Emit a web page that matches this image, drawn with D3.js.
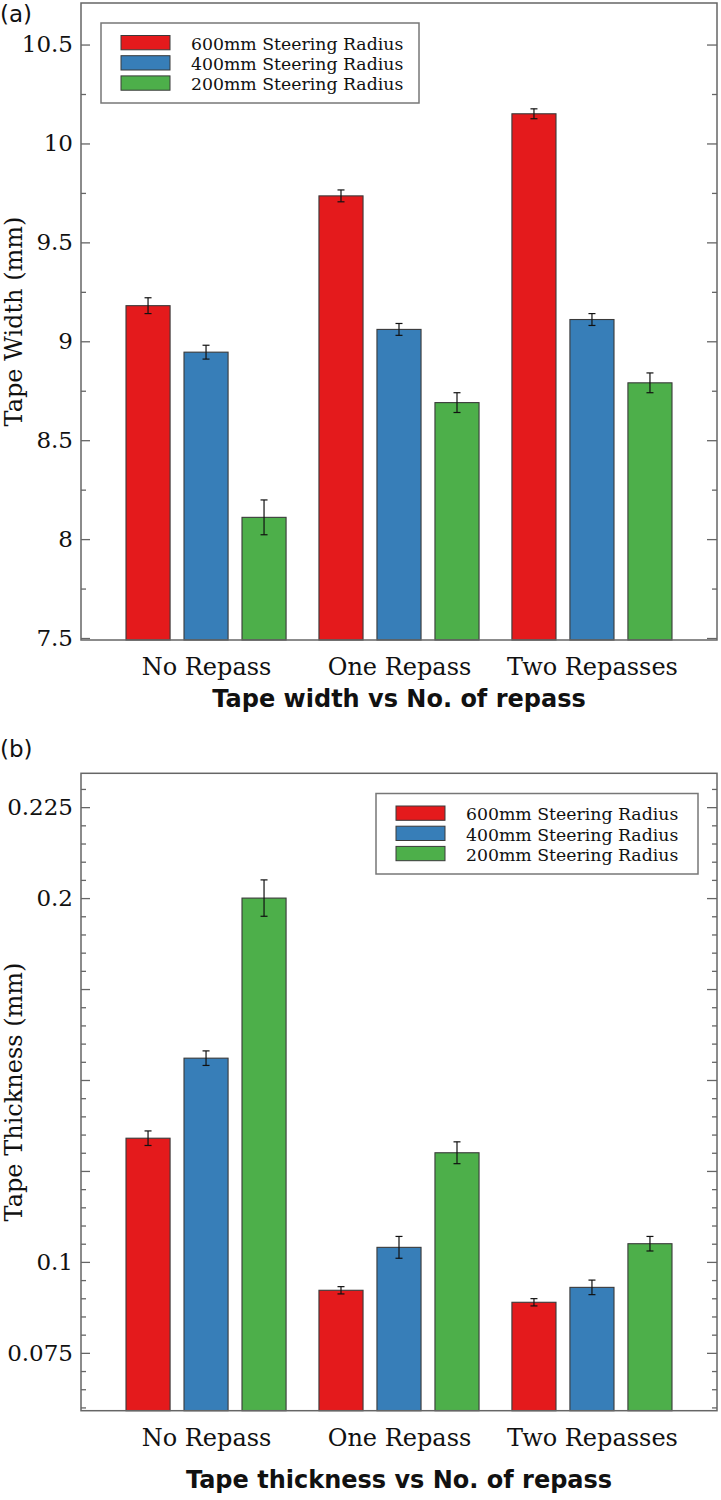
<!DOCTYPE html>
<html>
<head>
<meta charset="utf-8">
<script src="https://cdn.jsdelivr.net/npm/d3@7"></script>
<style>
  html, body { margin: 0; padding: 0; background: #fff; }
  svg { display: block; }
  .tick text { font-family: "DejaVu Serif", serif; fill: #111; }
</style>
</head>
<body>
<svg id="chart" width="721" height="1500"></svg>
<script>
// ---------- data ----------
const categories = ["No Repass", "One Repass", "Two Repasses"];
const seriesNames = ["600mm Steering Radius", "400mm Steering Radius", "200mm Steering Radius"];
const seriesColors = ["#e41a1c", "#377eb8", "#4daf4a"];

// Panel (a): tape width (mm)
const width600 = [9.18, 9.735, 10.15];
const width400 = [8.945, 9.06, 9.11];
const width200 = [8.11, 8.69, 8.79];
const width600Err = [0.04, 0.03, 0.025];
const width400Err = [0.035, 0.03, 0.03];
const width200Err = [0.088, 0.05, 0.05];
const widthMajorTicks = [7.5, 8, 8.5, 9, 9.5, 10, 10.5];
const widthTickLabels = ["7.5", "8", "8.5", "9", "9.5", "10", "10.5"];
const widthMinorTicks = [7.75, 8.25, 8.75, 9.25, 9.75, 10.25];

// Panel (b): tape thickness (mm)
const thick600 = [0.134, 0.0922, 0.0889];
const thick400 = [0.156, 0.104, 0.093];
const thick200 = [0.200, 0.130, 0.105];
const thick600Err = [0.002, 0.001, 0.001];
const thick400Err = [0.002, 0.003, 0.002];
const thick200Err = [0.005, 0.003, 0.002];
const thickMajorTicks = [0.075, 0.1, 0.125, 0.15, 0.175, 0.2, 0.225];
const thickTickLabels = ["0.075", "0.1", "", "", "", "0.2", "0.225"];
const thickMinorTicks = [0.06, 0.065, 0.07, 0.08, 0.085, 0.09, 0.095, 0.105, 0.11, 0.115, 0.12,
  0.13, 0.135, 0.14, 0.145, 0.155, 0.16, 0.165, 0.17, 0.18, 0.185, 0.19, 0.195, 0.205, 0.21,
  0.215, 0.22, 0.23];

const svg = d3.select("#chart");

function drawPanel(o) {
  const g = svg.append("g");
  const left = 81, right = 717;
  const x = d3.scalePoint().domain(categories).range([left, right]).padding(0.648);
  const xs = d3.scaleBand().domain(seriesNames).range([-87, 87]).paddingInner(0.24).paddingOuter(0.12);
  const y = d3.scaleLinear().domain(o.domain).range([o.bottom, o.top]);

  // bars
  const rows = [];
  o.values.forEach((vals, si) => {
    vals.forEach((v, ci) => rows.push({ c: categories[ci], s: seriesNames[si], v, e: o.errs[si][ci], color: seriesColors[si] }));
  });
  g.append("g").selectAll("rect").data(rows).join("rect")
    .attr("x", d => x(d.c) + xs(d.s))
    .attr("width", xs.bandwidth())
    .attr("y", d => y(d.v))
    .attr("height", d => o.bottom - y(d.v))
    .attr("fill", d => d.color)
    .attr("stroke", "#3a3a3a")
    .attr("stroke-width", 1.1);

  // error bars
  const eg = g.append("g").attr("stroke", "#111").attr("stroke-width", 1.2);
  rows.forEach(d => {
    const cx = x(d.c) + xs(d.s) + xs.bandwidth() / 2;
    eg.append("line").attr("x1", cx).attr("x2", cx).attr("y1", y(d.v + d.e)).attr("y2", y(d.v - d.e));
    eg.append("line").attr("x1", cx - 3.5).attr("x2", cx + 3.5).attr("y1", y(d.v + d.e)).attr("y2", y(d.v + d.e));
    eg.append("line").attr("x1", cx - 3.5).attr("x2", cx + 3.5).attr("y1", y(d.v - d.e)).attr("y2", y(d.v - d.e));
  });

  // axes ticks (inward)
  const axColor = "#666";
  const la = g.append("g").attr("transform", `translate(${left},0)`)
    .call(d3.axisLeft(y).tickValues(o.major).tickSize(-9).tickPadding(8)
      .tickFormat((d, i) => o.labels[i]));
  la.selectAll("text").attr("font-size", 23);
  const lm = g.append("g").attr("transform", `translate(${left},0)`)
    .call(d3.axisLeft(y).tickValues(o.minor).tickSize(-5).tickFormat(""));
  const ra = g.append("g").attr("transform", `translate(${right},0)`)
    .call(d3.axisRight(y).tickValues(o.major).tickSize(-10).tickFormat(""));
  const rm = g.append("g").attr("transform", `translate(${right},0)`)
    .call(d3.axisRight(y).tickValues(o.minor).tickSize(-5).tickFormat(""));
  [la, lm, ra, rm].forEach(a => {
    a.select(".domain").remove();
    a.selectAll("line").attr("stroke", axColor).attr("stroke-width", 1.3);
  });

  // category axis
  const ba = g.append("g").attr("transform", `translate(0,${o.bottom})`)
    .call(d3.axisBottom(x).tickSize(0).tickPadding(18));
  ba.select(".domain").remove();
  ba.selectAll("text").attr("font-size", 24);

  // frame
  g.append("rect").attr("x", left).attr("y", o.top).attr("width", right - left).attr("height", o.bottom - o.top)
    .attr("fill", "none").attr("stroke", axColor).attr("stroke-width", 1.5);

  // y label
  g.append("text")
    .attr("transform", `translate(22,${(o.top + o.bottom) / 2}) rotate(-90)`)
    .attr("text-anchor", "middle")
    .attr("font-family", "DejaVu Serif, serif").attr("font-size", 24).attr("fill", "#111")
    .text(o.ylabel);

  // title
  g.append("text")
    .attr("x", (left + right) / 2).attr("y", o.bottom + o.titleGap)
    .attr("text-anchor", "middle")
    .attr("font-family", "DejaVu Sans, sans-serif").attr("font-weight", "bold").attr("font-size", 24).attr("fill", "#111")
    .text(o.title);

  // panel tag
  g.append("text").attr("x", 0).attr("y", o.tagY)
    .attr("font-family", "DejaVu Sans, sans-serif").attr("font-size", 23).attr("fill", "#111")
    .text(o.tag);

  // legend
  const L = o.legend;
  const lg = g.append("g");
  lg.append("rect").attr("x", L.x).attr("y", L.y).attr("width", L.w).attr("height", L.h)
    .attr("fill", "#fff").attr("stroke", "#777").attr("stroke-width", 1.5);
  seriesNames.forEach((name, i) => {
    const ry = L.y + 12.5 + i * 20.2;
    lg.append("rect").attr("x", L.x + 20).attr("y", ry).attr("width", 49).attr("height", 14.3)
      .attr("fill", seriesColors[i]).attr("stroke", "#3a3a3a").attr("stroke-width", 1);
    lg.append("text").attr("x", L.x + 90).attr("y", ry + 14.3)
      .attr("font-family", "DejaVu Serif, serif").attr("font-size", 17.3).attr("fill", "#111")
      .text(name);
  });
}

drawPanel({
  top: 3, bottom: 640, domain: [7.49, 10.71],
  values: [width600, width400, width200],
  errs: [width600Err, width400Err, width200Err],
  major: widthMajorTicks, labels: widthTickLabels, minor: widthMinorTicks,
  ylabel: "Tape Width (mm)", title: "Tape width vs No. of repass", titleGap: 67,
  tag: "(a)", tagY: 22,
  legend: { x: 101, y: 23, w: 318, h: 80 }
});

drawPanel({
  top: 773.3, bottom: 1410.7, domain: [0.0591, 0.2343],
  values: [thick600, thick400, thick200],
  errs: [thick600Err, thick400Err, thick200Err],
  major: thickMajorTicks, labels: thickTickLabels, minor: thickMinorTicks,
  ylabel: "Tape Thickness (mm)", title: "Tape thickness vs No. of repass", titleGap: 77,
  tag: "(b)", tagY: 757,
  legend: { x: 376, y: 793.5, w: 322, h: 80.5 }
});
</script>
</body>
</html>
